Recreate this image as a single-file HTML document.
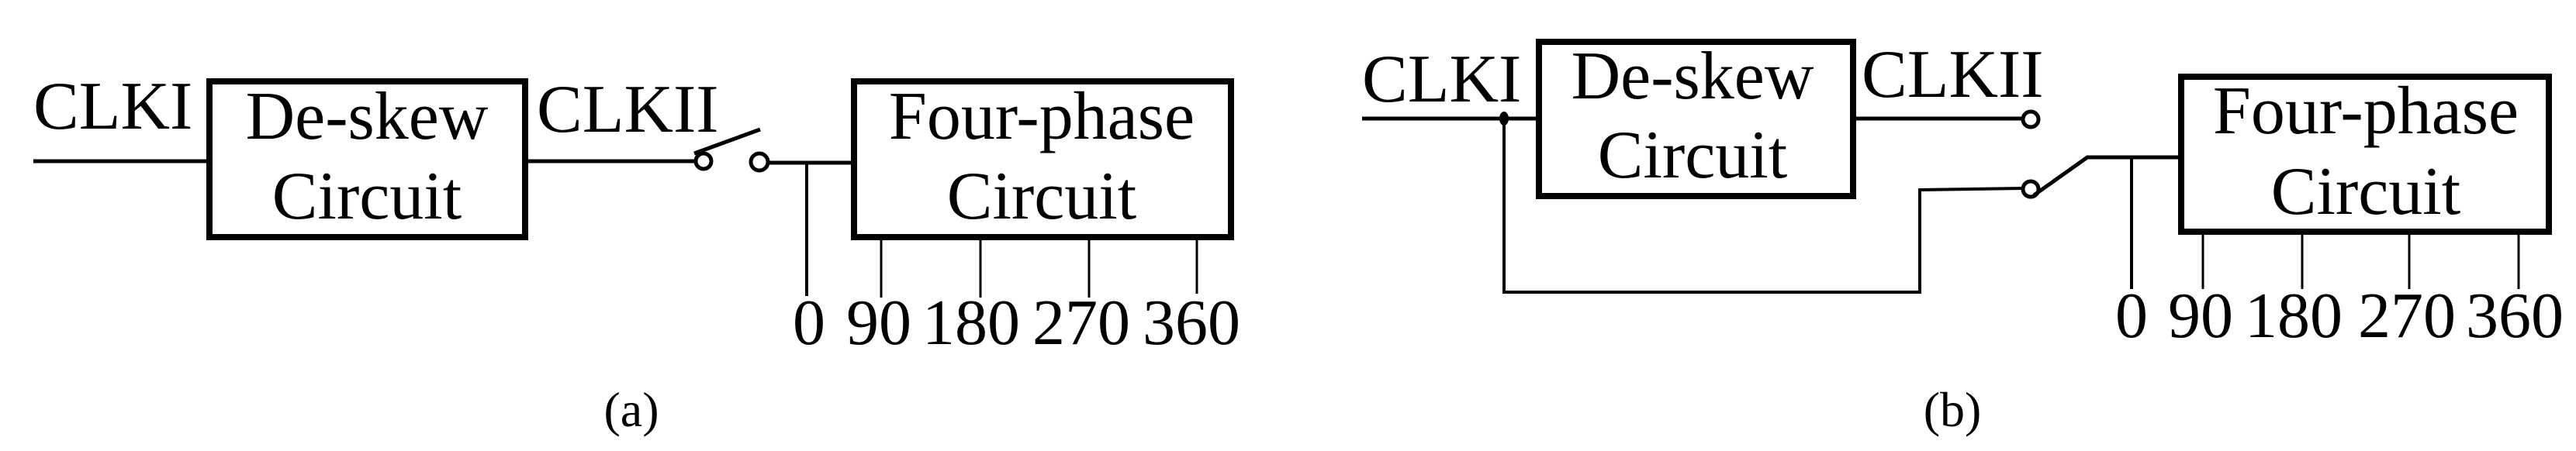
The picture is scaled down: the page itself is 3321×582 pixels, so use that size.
<!DOCTYPE html>
<html><head><meta charset="utf-8"><style>
html,body{margin:0;padding:0;background:#fff;}
svg{display:block;}
text{font-family:"Liberation Serif",serif;fill:#000;}
</style></head><body>
<svg width="3321" height="582" viewBox="0 0 3321 582" xmlns="http://www.w3.org/2000/svg">
<g stroke="#000" fill="none" stroke-linecap="butt">
<!-- Panel a -->
<line x1="43" y1="208" x2="266" y2="208" stroke-width="5"/>
<rect x="270" y="105" width="407" height="201" stroke-width="8"/>
<line x1="677" y1="208" x2="896" y2="208" stroke-width="5"/>
<circle cx="907" cy="208" r="10" stroke-width="5" fill="#fff"/>
<line x1="895" y1="198" x2="980" y2="167" stroke-width="5"/>
<circle cx="979" cy="209" r="11" stroke-width="5" fill="#fff"/>
<line x1="990" y1="210" x2="1097" y2="210" stroke-width="5"/>
<line x1="1040" y1="210" x2="1040" y2="382" stroke-width="4"/>
<rect x="1101" y="105" width="486" height="201" stroke-width="8"/>
<line x1="1136" y1="306" x2="1136" y2="384" stroke-width="3"/>
<line x1="1264" y1="306" x2="1264" y2="384" stroke-width="3"/>
<line x1="1404" y1="306" x2="1404" y2="384" stroke-width="3"/>
<line x1="1543" y1="306" x2="1543" y2="379" stroke-width="3"/>
<!-- Panel b -->
<line x1="1756" y1="153" x2="1980" y2="153" stroke-width="5"/>
<ellipse cx="1939" cy="153" rx="6" ry="9" fill="#000" stroke="none"/>
<rect x="1984" y="54" width="405" height="199" stroke-width="8"/>
<line x1="2393" y1="153" x2="2607" y2="153" stroke-width="5"/>
<circle cx="2618" cy="154" r="10" stroke-width="5" fill="#fff"/>
<polyline points="1939,153 1939,377 2475,377 2475,245 2608,243" stroke-width="4"/>
<circle cx="2618" cy="244" r="10" stroke-width="5" fill="#fff"/>
<polyline points="2622,252 2691,203 2808,203" stroke-width="5"/>
<line x1="2748" y1="203" x2="2748" y2="373" stroke-width="4"/>
<rect x="2812" y="99" width="474" height="200" stroke-width="8"/>
<line x1="2840" y1="303" x2="2840" y2="373" stroke-width="3"/>
<line x1="2968" y1="303" x2="2968" y2="373" stroke-width="3"/>
<line x1="3106" y1="303" x2="3106" y2="373" stroke-width="3"/>
<line x1="3247" y1="303" x2="3247" y2="373" stroke-width="3"/>
</g>
<g font-size="88">
<text x="43" y="166">CLKI</text>
<text x="473" y="179" text-anchor="middle">De-skew</text>
<text x="473" y="282" text-anchor="middle">Circuit</text>
<text x="692" y="170">CLKII</text>
<text x="1343" y="179" text-anchor="middle">Four-phase</text>
<text x="1343" y="282" text-anchor="middle">Circuit</text>
<text x="1756" y="131">CLKI</text>
<text x="2182" y="127" text-anchor="middle">De-skew</text>
<text x="2182" y="229" text-anchor="middle">Circuit</text>
<text x="2400" y="125">CLKII</text>
<text x="3050" y="172" text-anchor="middle">Four-phase</text>
<text x="3050" y="276" text-anchor="middle">Circuit</text>
</g>
<g font-size="84" text-anchor="middle">
<text x="1043" y="444">0</text>
<text x="1133" y="444">90</text>
<text x="1252" y="444">180</text>
<text x="1394" y="444">270</text>
<text x="1536" y="444">360</text>
<text x="2748" y="435">0</text>
<text x="2837" y="435">90</text>
<text x="2957" y="435">180</text>
<text x="3103" y="435">270</text>
<text x="3242" y="435">360</text>
</g>
<g font-size="64" text-anchor="middle">
<text x="814" y="550">(a)</text>
<text x="2517" y="550">(b)</text>
</g>
</svg>
</body></html>
